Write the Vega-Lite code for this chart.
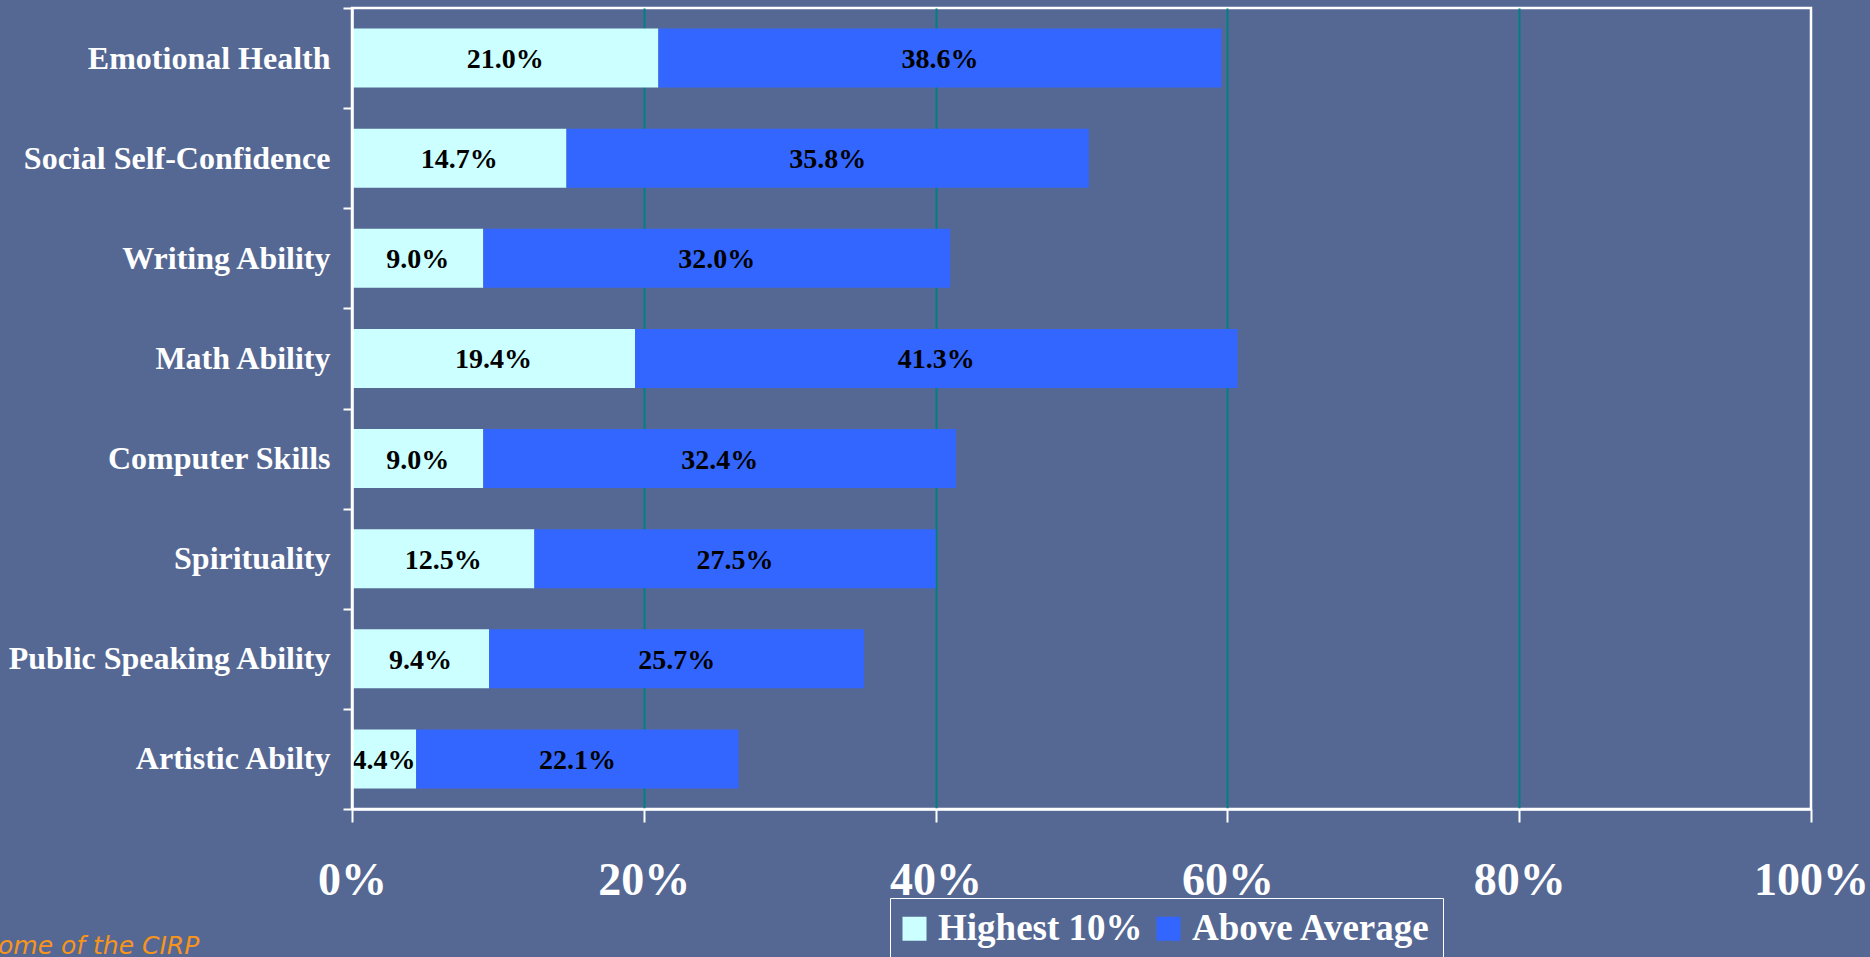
{
  "$schema": "https://vega.github.io/schema/vega-lite/v6.json",
  "width": 1459,
  "height": 801,
  "autosize": {"type": "none"},
  "padding": {"left": 352, "top": 8, "right": 59, "bottom": 148},
  "background": "#556894",
  "config": {"view": {"stroke": "#ffffff", "strokeWidth": 2.5}, "font": "Liberation Serif"},
  "title": {
    "text": "ome of the CIRP",
    "orient": "bottom",
    "anchor": "start",
    "frame": "group",
    "dx": -354,
    "offset": -6,
    "baseline": "alphabetic",
    "font": "DejaVu Sans",
    "fontStyle": "italic",
    "fontWeight": "normal",
    "fontSize": 25,
    "color": "#F7941D"
  },
  "data": {
    "values": [
      {"skill": "Emotional Health", "series": "Highest 10%", "value": 0.210},
      {"skill": "Emotional Health", "series": "Above Average", "value": 0.386},
      {"skill": "Social Self-Confidence", "series": "Highest 10%", "value": 0.147},
      {"skill": "Social Self-Confidence", "series": "Above Average", "value": 0.358},
      {"skill": "Writing Ability", "series": "Highest 10%", "value": 0.090},
      {"skill": "Writing Ability", "series": "Above Average", "value": 0.320},
      {"skill": "Math Ability", "series": "Highest 10%", "value": 0.194},
      {"skill": "Math Ability", "series": "Above Average", "value": 0.413},
      {"skill": "Computer Skills", "series": "Highest 10%", "value": 0.090},
      {"skill": "Computer Skills", "series": "Above Average", "value": 0.324},
      {"skill": "Spirituality", "series": "Highest 10%", "value": 0.125},
      {"skill": "Spirituality", "series": "Above Average", "value": 0.275},
      {"skill": "Public Speaking Ability", "series": "Highest 10%", "value": 0.094},
      {"skill": "Public Speaking Ability", "series": "Above Average", "value": 0.257},
      {"skill": "Artistic Abilty", "series": "Highest 10%", "value": 0.044},
      {"skill": "Artistic Abilty", "series": "Above Average", "value": 0.221}
    ]
  },
  "transform": [
    {"stack": "value", "groupby": ["skill"], "sort": [{"field": "series", "order": "descending"}], "as": ["v0", "v1"]}
  ],
  "encoding": {
    "y": {
      "field": "skill",
      "type": "nominal",
      "sort": null,
      "scale": {"paddingInner": 0, "paddingOuter": 0},
      "axis": {
        "title": null,
        "labelFont": "Liberation Serif",
        "labelFontSize": 32,
        "labelFontWeight": "bold",
        "labelColor": "#ffffff",
        "labelPadding": 13,
        "labelLimit": 0,
        "tickSize": 9,
        "tickColor": "#ffffff",
        "tickWidth": 2,
        "tickBand": "extent",
        "domainColor": "#ffffff",
        "domainWidth": 2.5,
        "grid": false,
        "zindex": 1
      }
    }
  },
  "layer": [
    {
      "mark": {"type": "bar", "height": {"band": 0.59}},
      "encoding": {
        "x": {
          "field": "v0",
          "type": "quantitative",
          "scale": {"domain": [0, 1], "nice": false},
          "axis": {
            "title": null,
            "format": ".0%",
            "values": [0, 0.2, 0.4, 0.6, 0.8, 1],
            "labelFont": "Liberation Serif",
            "labelFontSize": 46,
            "labelFontWeight": "bold",
            "labelColor": "#ffffff",
            "labelBaseline": "alphabetic",
            "labelPadding": 72,
            "labelFlush": false,
            "labelOverlap": false,
            "tickSize": 13,
            "tickColor": "#ffffff",
            "tickWidth": 2,
            "domainColor": "#ffffff",
            "domainWidth": 2.5,
            "grid": true,
            "gridColor": {"condition": {"test": "datum.value === 0 || datum.value === 1", "value": "transparent"}, "value": "#008080"},
            "gridWidth": 2
          }
        },
        "x2": {"field": "v1"},
        "color": {
          "field": "series",
          "type": "nominal",
          "scale": {"domain": ["Highest 10%", "Above Average"], "range": ["#CCFFFF", "#3366FF"]},
          "legend": {
            "title": null,
            "orient": "none",
            "legendX": 538,
            "legendY": 890,
            "direction": "horizontal",
            "symbolType": "square",
            "symbolSize": 576,
            "symbolStrokeWidth": 0,
            "symbolOpacity": 1,
            "symbolOffset": -6,
            "labelFont": "Liberation Serif",
            "labelFontSize": 37,
            "labelFontWeight": "bold",
            "labelColor": "#ffffff",
            "labelLimit": 0,
            "labelOffset": 5,
            "columnPadding": 13,
            "padding": 12,
            "strokeColor": "#ffffff"
          }
        }
      }
    },
    {
      "transform": [
        {"fold": ["v0", "v1"], "as": ["edge", "pos"]},
        {"aggregate": [{"op": "mean", "field": "pos", "as": "mid"}, {"op": "max", "field": "value", "as": "val"}], "groupby": ["skill", "series"]}
      ],
      "mark": {"type": "text", "font": "Liberation Serif", "fontSize": 28, "fontWeight": "bold", "color": "#000000", "align": "center", "baseline": "middle", "dy": 2},
      "encoding": {
        "x": {"field": "mid", "type": "quantitative", "stack": null},
        "text": {"field": "val", "type": "quantitative", "format": ".1%"}
      }
    }
  ]
}
